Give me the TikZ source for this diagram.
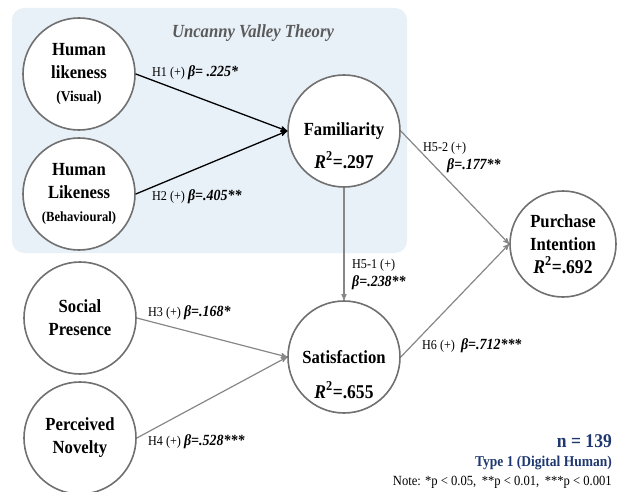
\documentclass[tikz,border=0pt]{standalone}
\usepackage{fontspec}
\setmainfont{Liberation Serif}[FakeStretch=0.9]
\usepackage{xcolor}
\usetikzlibrary{arrows,positioning}

\definecolor{panelblue}{RGB}{232,240,248}
\definecolor{ringgray}{RGB}{112,112,112}
\definecolor{pathgray}{RGB}{135,135,135}
\definecolor{notenavy}{RGB}{31,56,112}
\definecolor{theorygray}{RGB}{90,90,90}

\newcommand{\coef}[1]{{\bfseries\itshape\fontsize{15.5}{17}\selectfont #1}}
\newcommand{\rsq}[1]{{\bfseries\fontsize{19.5}{23}\selectfont\textit{R}\textsuperscript{2}=#1}}

\begin{document}
\begin{tikzpicture}[x=1pt,y=-1pt,>=stealth',node distance=120pt,
    construct/.style={circle,draw=ringgray,line width=1.6pt,fill=white,minimum size=112pt,inner sep=0pt,align=center,font=\bfseries\fontsize{18.5}{23}\selectfont},
    hyp/.style={anchor=west,inner sep=0pt,align=left,font=\fontsize{13.5}{18}\selectfont},
    blackpath/.style={->,line width=1.3pt,black},
    graypath/.style={->,line width=1.2pt,pathgray}]
    \useasboundingbox (0,0) rectangle (621,492);
    \fill[panelblue,rounded corners=12pt] (12,8) rectangle (407,253);
    \node[font=\bfseries\itshape\fontsize{18.5}{20}\selectfont,text=theorygray] (uvt) at (253,33) {Uncanny Valley Theory};

    % constructs
    \node[construct] (hlv) at (79,74) {Human\\likeness\\{\fontsize{15}{16}\selectfont(Visual)}};
    \node[construct] (hlb) [below of=hlv] {Human\\Likeness\\{\fontsize{14}{16}\selectfont(Behavioural)}};
    \node[construct] (sp) at (80,318) {Social\\Presence};
    \node[construct] (pn) [below of=sp] {Perceived\\Novelty};
    \node[construct] (fam) at (344,131) {Familiarity};
    \node (famr) [below of=fam,node distance=29pt] {\rsq{.297}};
    \node[construct] (sat) at (344,357) {Satisfaction};
    \node (satr) [below of=sat,node distance=33pt] {\rsq{.655}};
    \node[construct,minimum size=106pt] (pi) at (563,244) {Purchase\\Intention\\\rsq{.692}};

    % paths
    \path
    (hlv.east) edge[blackpath] (fam.west)
    (hlb.east) edge[blackpath] (fam.west)
    (fam.south) edge[graypath] (sat.north)
    (fam.east) edge[graypath] (pi.west)
    (sp.east) edge[graypath] (sat.west)
    (pn.east) edge[graypath] (sat.west)
    (sat.east) edge[graypath] (pi.west);

    % coefficients
    \node[hyp] (h1) at (152,73) {H1 (+) \coef{β= .225*}};
    \node[hyp] (h2) at (152,197) {H2 (+) \coef{β=.405**}};
    \node[hyp] (h3) at (148,313) {H3 (+) \coef{β=.168*}};
    \node[hyp] (h4) at (148,442) {H4 (+) \coef{β=.528***}};
    \node[hyp] (h51) at (352,274) {H5-1 (+)\\\coef{β=.238**}};
    \node[hyp] (h52) at (423,157) {H5-2 (+)\\\hspace*{24pt}\coef{β=.177**}};
    \node[hyp] (h6) at (422,346) {H6 (+)\hspace{6pt}\coef{β=.712***}};

    % sample note
    \node[anchor=east,inner sep=0pt,text=notenavy,font=\bfseries\fontsize{19.5}{20}\selectfont] (nsize) at (612,441) {n = 139};
    \node[anchor=east,inner sep=0pt,text=notenavy,font=\bfseries\fontsize{15}{16}\selectfont] (dtype) at (612,463) {Type 1 (Digital Human)};
    \node[anchor=east,inner sep=0pt,font=\fontsize{14}{15}\selectfont] (pnote) at (612,482) {Note: *p < 0.05, \,**p < 0.01, \,***p < 0.001};
\end{tikzpicture}
\end{document}
